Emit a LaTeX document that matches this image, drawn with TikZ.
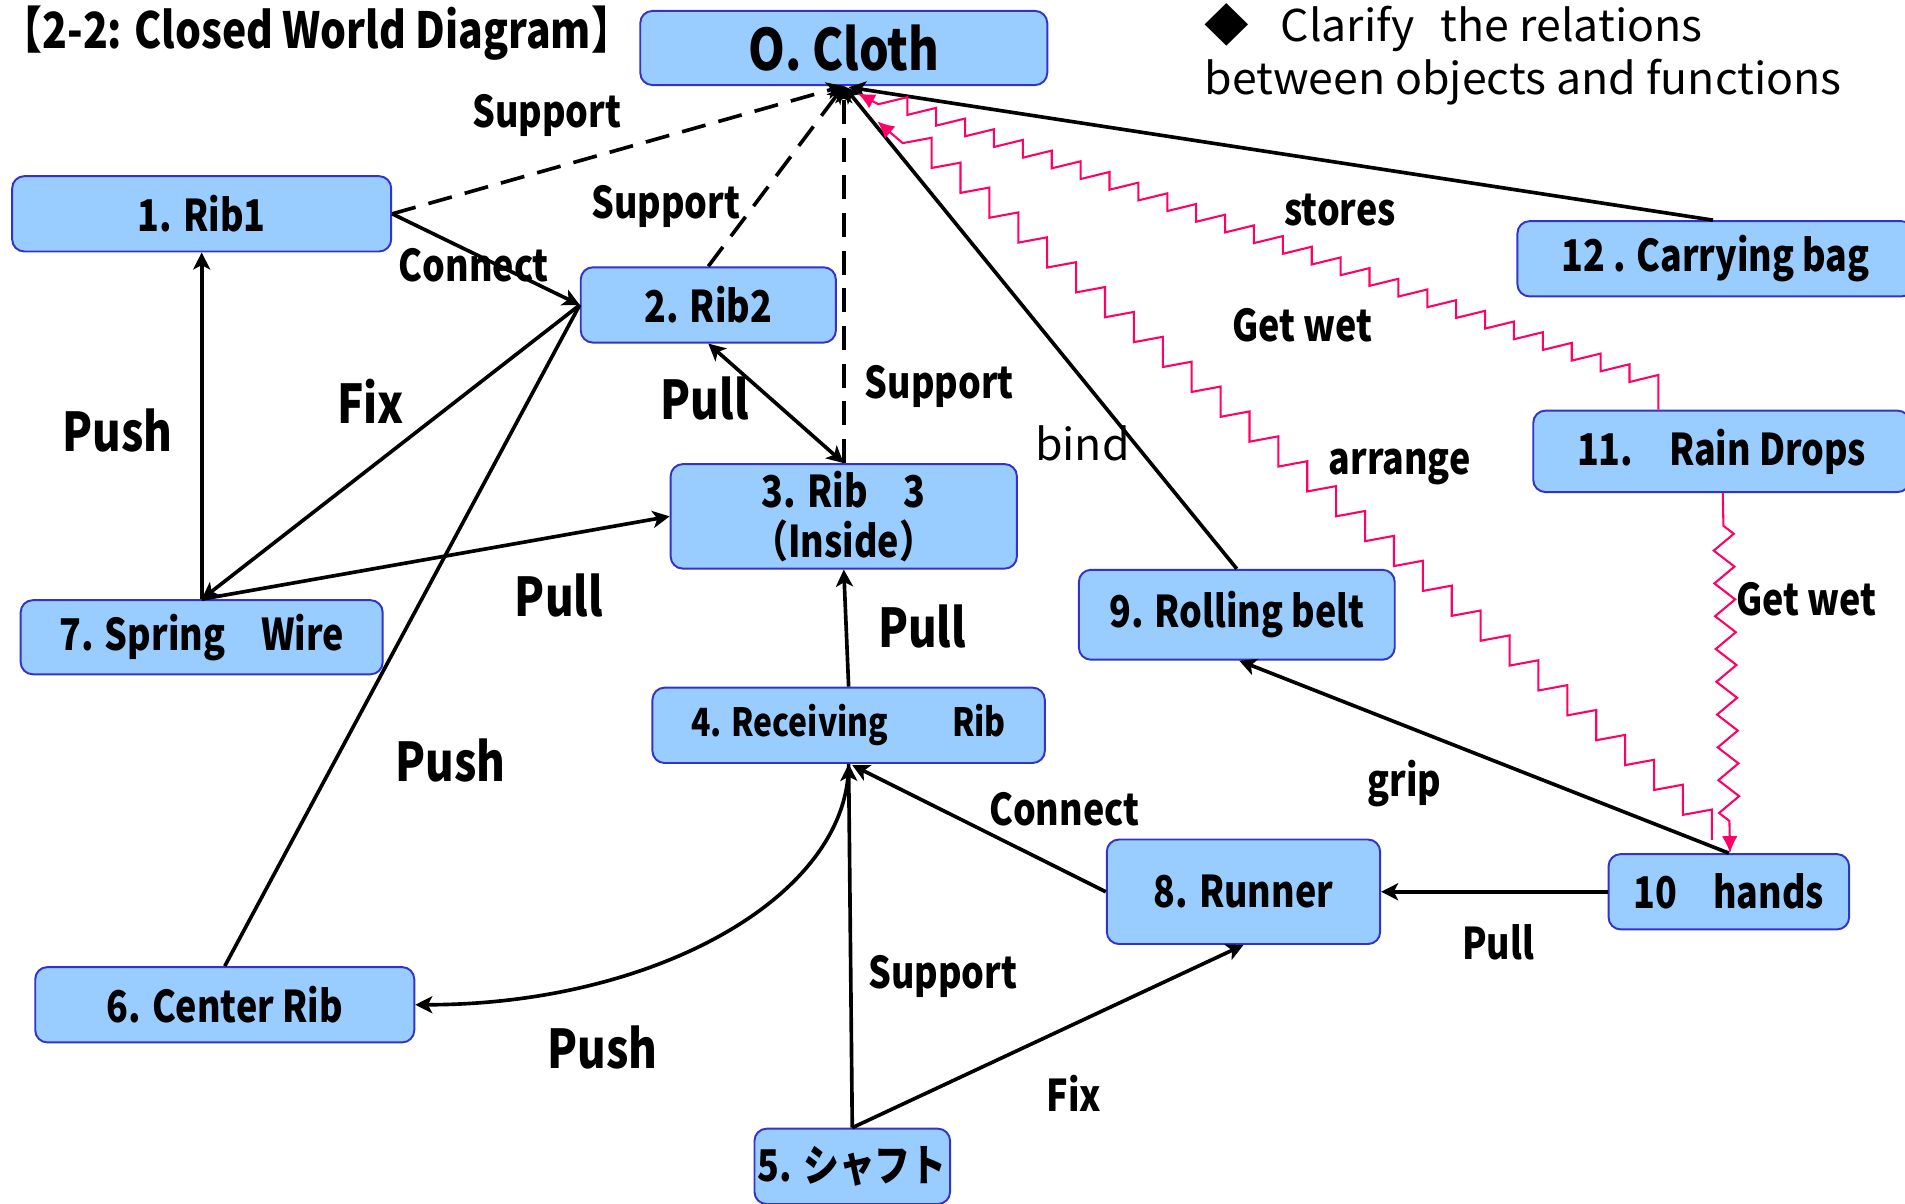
\documentclass[tikz,border=0pt]{standalone}
\usepackage{fontspec}
\setmainfont{Noto Sans CJK JP}[FakeStretch=0.82]
\newfontfamily\notefont{Noto Sans CJK JP}[FakeStretch=1.02]
\usetikzlibrary{arrows.meta,calc,decorations.pathmorphing}
\definecolor{boxfill}{HTML}{99CCFF}
\definecolor{boxline}{HTML}{3333CC}
\definecolor{zigred}{HTML}{FF0066}
\begin{document}
\begin{tikzpicture}[x=0.5pt,y=-0.5pt,
  box/.style={draw=boxline, line width=0.8pt, fill=boxfill, rounded corners=5pt, inner sep=0pt,
    font=\bfseries\fontsize{18}{20.5}\selectfont, align=center},
  lab/.style={inner sep=0pt, font=\bfseries\fontsize{18}{20}\selectfont},
  labL/.style={inner sep=0pt, font=\bfseries\fontsize{22}{24}\selectfont},
  conn/.style={line width=1.5pt, black},
  dsh/.style={conn, dash pattern=on 10pt off 5.5pt},
  arr/.style={-{Stealth[length=7pt,width=7pt,inset=1.8pt]}},
  barr/.style={{Stealth[length=7pt,width=7pt,inset=1.8pt]}-{Stealth[length=7pt,width=7pt,inset=1.8pt]}},
  zig/.style={draw=zigred, line width=0.85pt},
  ztip/.style={{Latex[length=7pt,width=6.5pt]}-},
  ztipend/.style={-{Latex[length=7pt,width=6.5pt]}}
]
\useasboundingbox (0,0) rectangle (1568,991);
\clip (0,0) rectangle (1568,991);

% ---------- boxes ----------
\node[box, minimum width=167.5pt, minimum height=30.5pt, font=\bfseries\fontsize{23.5}{26}\selectfont] (cloth) at (694.5,39.5) {O. Cloth};
\node[box, minimum width=156pt, minimum height=31pt] (rib1) at (166,176) {1. Rib1};
\node[box, minimum width=105pt, minimum height=31pt] (rib2) at (583,251) {2. Rib2};
\node[box, minimum width=142.5pt, minimum height=43pt] (rib3) at (694.5,425) {3. Rib　3\\（Inside）};
\node[box, minimum width=161.5pt, minimum height=31pt, font=\bfseries\fontsize{16}{18}\selectfont] (rec) at (698.5,597) {4. Receiving　　Rib};
\node[box, minimum width=80.5pt, minimum height=31pt] (shaft) at (701.5,960) {5. シャフト};
\node[box, minimum width=156pt, minimum height=31pt] (crib) at (185,827) {6. Center Rib};
\node[box, minimum width=149pt, minimum height=30.5pt] (spring) at (166,524.5) {7. Spring　Wire};
\node[box, minimum width=112.5pt, minimum height=43pt] (runner) at (1023.5,734) {8. Runner};
\node[box, minimum width=130pt, minimum height=37pt] (belt) at (1018,506) {9. Rolling belt};
\node[box, minimum width=99pt, minimum height=31pt] (hands) at (1423,734) {10　hands};
\node[box, minimum width=155pt, minimum height=33.5pt] (rain) at (1417,371.5) {11.　Rain Drops};
\node[box, minimum width=163pt, minimum height=31pt] (bag) at (1412,213) {12 . Carrying bag};

% ---------- titles ----------
\node[anchor=base west, inner sep=0pt, font=\bfseries\fontsize{20.5}{24}\selectfont] (title) at (1,40) {【2-2: Closed World Diagram】};
\node[anchor=base west, inner sep=0pt, font=\notefont\fontsize{18}{22}\selectfont] (note1) at (991,34) {◆\hspace{13pt}Clarify\hspace{11pt}the relations};
\node[anchor=base west, inner sep=0pt, font=\notefont\fontsize{18}{22}\selectfont] (note2) at (991,78) {between objects and functions};

% ---------- black connectors ----------
\draw[dsh, arr] (rib1.east) -- (cloth.south);
\draw[dsh, arr] (rib2.north) -- (cloth.south);
\draw[dsh, arr] (rib3.north) -- (cloth.south);
\draw[conn, arr] (rib1.east) -- (rib2.west);
\draw[conn, barr] (rib2.south) -- (rib3.north);
\draw[conn, arr] (spring.north) -- (rib1.south);
\draw[conn, arr] (rib2.west) -- (spring.north);
\draw[conn, arr] (spring.north) -- (rib3.west);
\draw[conn] (crib.north) -- (rib2.west);
\draw[conn, arr] (rec.north) -- (rib3.south);
\draw[conn, arr] (rec.south) .. controls ($(rec.south)+(0,109)$) and ($(crib.east)+(197,0)$) .. (crib.east);
\draw[conn, arr] (shaft.north) -- (rec.south);
\draw[conn, arr] (runner.west) -- ($(rec.south)+(3,1)$);
\draw[conn, arr] (shaft.north) -- (runner.south);
\draw[conn, arr] (hands.west) -- (runner.east);
\draw[conn, arr] (hands.north) -- ($(belt.south)+(2,0)$);
\draw[conn, arr] (belt.north) -- (cloth.south);
\draw[conn, arr] ($(bag.north)+(-2,0)$) -- ($(cloth.south)+(4,1)$);

% ---------- red zigzag connectors ----------
\draw[zig, ztip]
  let \p1=($(cloth.south)+(28.5,15)$), \p2=($(rain.north)+(-52,-14)$) in
  ($(cloth.south)+(11.5,6)$) -- (\p1)
  foreach \i in {1,...,27} {
    -- ({\x1+\i*(\x2-\x1)/27},{\y1+(\i-1)*(\y2-\y1)/27+2.9pt})
    -- ({\x1+\i*(\x2-\x1)/27},{\y1+\i*(\y2-\y1)/27})
  }
  -- ($(rain.north)+(-52,0)$);
\draw[zig, ztip]
  let \p1=($(cloth.south)+(48.5,47)$), \p2=($(hands.north)+(-14,-11)$) in
  ($(cloth.south)+(27.5,29)$) -- (\p1)
  foreach \i in {1,...,28} {
    -- ({\x1+\i*(\x2-\x1)/28},{\y1+(\i-1)*(\y2-\y1)/28+2.2pt})
    -- ({\x1+\i*(\x2-\x1)/28},{\y1+\i*(\y2-\y1)/28})
  };
\draw[zig, ztipend, decorate, decoration={zigzag, amplitude=4.2pt, segment length=13.5pt, pre length=13.5pt, post length=11.5pt}]
  ($(rain.south)+(1,0)$) -- ($(hands.north)+(1,0)$);

% ---------- labels ----------
\node[lab] (l1) at (450,95) {Support};
\node[lab] (l2) at (548,170) {Support};
\node[lab] (l3) at (390,218) {Connect};
\node[labL] (l4) at (97,354) {Push};
\node[labL] (l5) at (305,330) {Fix};
\node[labL] (l6) at (580,328) {Pull};
\node[lab] (l7) at (773,318) {Support};
\node[labL] (l8) at (460,490) {Pull};
\node[labL] (l9) at (759,516) {Pull};
\node[labL] (l10) at (371,626) {Push};
\node[labL] (l11) at (496,862) {Push};
\node[lab] (l12) at (776,804) {Support};
\node[lab] (l13) at (876,666) {Connect};
\node[lab] (l14) at (884,900) {Fix};
\node[lab] (l15) at (1233,776) {Pull};
\node[lab] (l16) at (1156,645) {grip};
\node[lab, font=\notefont\fontsize{18}{21}\selectfont] (l17) at (891,365) {bind};
\node[lab] (l18) at (1103,173) {stores};
\node[lab] (l19) at (1072,268) {Get wet};
\node[lab] (l20) at (1152,384) {arrange};
\node[lab] (l21) at (1487,493) {Get wet};
\end{tikzpicture}
\end{document}
